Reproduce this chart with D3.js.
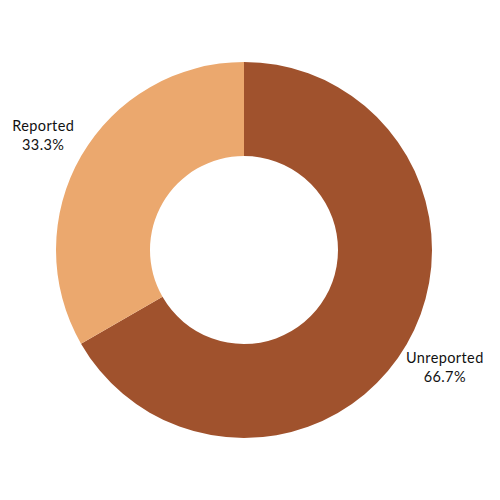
<!DOCTYPE html>
<html><head><meta charset="utf-8">
<script src="https://cdn.jsdelivr.net/npm/d3@7"></script>
<style>body{margin:0;background:#fff}</style>
</head><body>
<svg id="c" width="500" height="500"></svg>
<script>
const categories = ["Unreported", "Reported"];
const values = [66.7, 33.3];
const labels = ["66.7%", "33.3%"];
const colors = ["#A0522D", "#EBA86E"];

const svg = d3.select("#c");
const cx = 244, cy = 250, outerR = 188, innerR = 94, labelR = 232;
const g = svg.append("g").attr("transform", `translate(${cx},${cy})`);
const pie = d3.pie().sort(null).value(d => d)(values);
const arc = d3.arc().innerRadius(innerR).outerRadius(outerR);
g.selectAll("path").data(pie).join("path")
  .attr("d", arc).attr("fill", (d, i) => colors[i]);
const lab = d3.arc().innerRadius(labelR).outerRadius(labelR);
const t = g.selectAll("text").data(pie).join("text")
  .attr("transform", d => `translate(${lab.centroid(d)})`)
  .attr("text-anchor", "middle")
  .attr("font-family", "Lato, sans-serif")
  .attr("font-size", 14.5)
  .attr("letter-spacing", 0.4)
  .attr("fill", "#111");
t.append("tspan").attr("x", 0).attr("dy", "-0.2em").text((d, i) => categories[i]);
t.append("tspan").attr("x", 0).attr("dy", "1.32em").text((d, i) => labels[i]);
</script>
</body></html>
